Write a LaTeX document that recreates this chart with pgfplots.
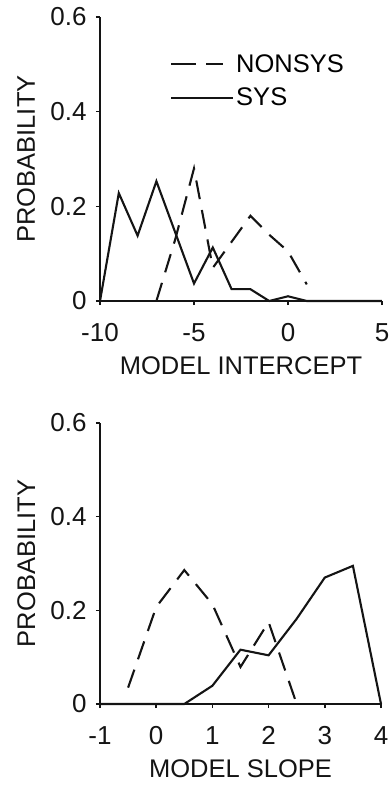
\documentclass[border=0pt]{standalone}
\usepackage{fontspec}
\setmainfont{Liberation Sans}
\usepackage{pgfplots}
\pgfplotsset{compat=1.18}
\definecolor{ink}{gray}{0.08}
\pgfplotsset{
  myax/.style={
    scale only axis,
    axis x line=bottom, axis y line=left,
    axis line style={-, line width=1.8pt, ink},
    tick style={line width=1.5pt, ink},
    tick align=outside, major tick length=4pt,
    ymin=0, ymax=0.6, ytick={0,0.2,0.4,0.6},
    yticklabel style={/pgf/number format/fixed, /pgf/number format/precision=1, xshift=-6pt},
    xticklabel style={yshift=-15pt},
    /pgf/number format/assume math mode=true,
    tick label style={font=\fontsize{26}{30}\selectfont, text=ink},
    ylabel={PROBABILITY},
    every axis y label/.style={at={(axis description cs:-0.262,0.5)}, rotate=90, anchor=center,
      font=\fontsize{25.5}{30}\selectfont, text=ink},
    clip=false,
  },
  sys/.style={ink, solid, no marks, line width=2.1pt, line join=miter},
  nonsys/.style={ink, no marks, line width=2.1pt, dash pattern=on 19pt off 11pt},
}
\begin{document}
\begin{tikzpicture}[x=1pt,y=1pt]
\path[use as bounding box] (-100,301) rectangle (291,-484);
\begin{axis}[myax, at={(0pt,0pt)}, anchor=south west,
  width=282pt, height=284pt,
  xmin=-10, xmax=5, xtick={-10,-5,0,5},
  xlabel={MODEL INTERCEPT},
  every axis x label/.style={at={(axis description cs:0.5,-0.229)}, anchor=center,
    font=\fontsize{25.5}{30}\selectfont, text=ink},
  legend style={draw=none, fill=none, at={(axis description cs:0.248,0.875)}, anchor=north west,
    font=\fontsize{25.5}{30}\selectfont, inner sep=0pt, row sep=10pt,
    /tikz/every even column/.append style={column sep=6pt}},
  legend cell align=left,
  legend image code/.code={\draw[#1] (0pt,0pt) -- (62pt,0pt);},
]
\addplot[nonsys, legend image code/.code={\draw[ink, line width=2.1pt, dash pattern=on 25pt off 10pt on 17pt off 20pt] (0pt,0pt) -- (62pt,0pt);}] coordinates {(-7,0) (-6,0.13) (-5,0.28) (-4,0.07) (-3,0.125) (-2,0.18) (-1,0.14) (0,0.105) (1,0.035)};
\addlegendentry{NONSYS}
\addplot[sys] coordinates {(-10,0) (-9,0.228) (-8,0.138) (-7,0.253) (-6,0.145) (-5,0.037) (-4,0.113) (-3,0.025) (-2,0.025) (-1,0) (0,0.01) (1,0) (5,0)};
\addlegendentry{SYS}
\end{axis}
\begin{axis}[myax, at={(0pt,-403pt)}, anchor=south west,
  width=281pt, height=281pt,
  xmin=-1, xmax=4, xtick={-1,0,1,2,3,4},
  xlabel={MODEL SLOPE},
  every axis x label/.style={at={(axis description cs:0.5,-0.231)}, anchor=center,
    font=\fontsize{25.5}{30}\selectfont, text=ink},
]
\addplot[nonsys] coordinates {(-0.5,0.035) (0,0.207) (0.5,0.286) (1,0.213) (1.5,0.079) (2,0.175) (2.5,0)};
\addplot[sys] coordinates {(-1,0) (0.5,0) (1,0.039) (1.5,0.116) (2,0.104) (2.5,0.182) (3,0.27) (3.5,0.295) (4,0)};
\end{axis}
\end{tikzpicture}
\end{document}
